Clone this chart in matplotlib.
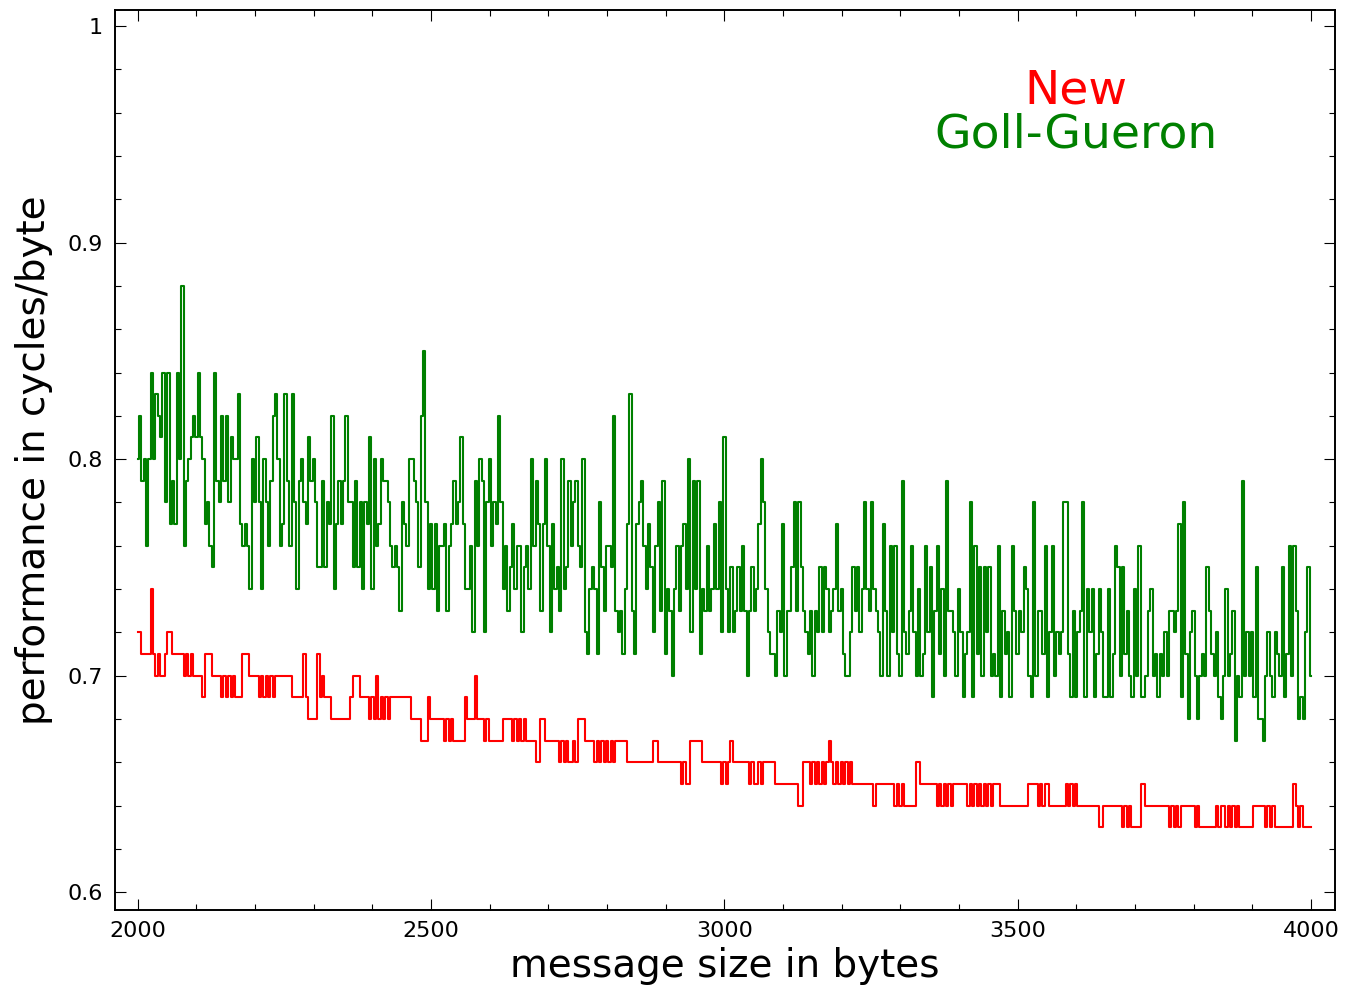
import numpy as np
import matplotlib
matplotlib.use("Agg")
import matplotlib.pyplot as plt
from matplotlib.ticker import MultipleLocator, FuncFormatter


# message sizes, one sample every 4 bytes from 2000 to 4000
size_start = 2000
size_stop = 4000
size_step = 4

# Goll-Gueron, cycles/byte in hundredths
gg_2000 = [80, 82, 79, 80, 76, 80, 84, 80, 83, 82, 81, 84, 78, 84, 77, 79, 77, 84, 80, 88,
           76, 79, 80, 81, 82, 81, 84, 81, 80, 77, 78, 76, 75, 84, 79, 78, 82, 79, 82, 78,
           81, 80, 80, 83, 77, 76, 77, 76, 74, 80, 78, 81, 78, 74, 80, 78, 76, 79, 82, 83,
           80, 76, 77, 83, 79, 76, 83, 78, 74, 79, 80, 78, 77, 81, 79, 80, 78, 75]
gg_2312 = [75, 79, 75, 78, 77, 82, 74, 77, 79, 77, 79, 82, 78, 78, 75, 79, 75, 78, 74, 78,
           77, 81, 74, 80, 76, 77, 80, 79, 79, 78, 76, 75, 76, 75, 73, 78, 77, 76, 80, 80,
           79, 78, 75, 82, 85, 78, 74, 77, 74, 77, 73, 76, 76, 77, 73, 76, 77, 79, 77, 78,
           81, 77, 74, 74, 76, 72, 79, 76, 80, 79, 72, 78, 80, 76, 78, 77, 82, 78, 74, 76,
           73, 75, 77, 74, 76]
gg_2652 = [76, 72, 75, 76, 74, 80, 76, 79, 77, 73, 77, 80, 76, 72, 77, 74, 75, 73, 80, 74,
           75, 79, 76, 78, 79, 76, 75, 80, 72, 71, 74, 75, 74, 71, 78, 75, 73, 76, 76, 75,
           82, 73, 72, 73, 71, 74, 77, 83, 73, 71, 77, 78, 79, 76, 74, 77, 75, 72, 76, 78,
           73, 79, 71, 74, 73, 70, 74, 76, 73, 76, 77, 74, 80, 72, 79, 74, 79, 71, 74, 73,
           76, 73, 74, 77, 74]
gg_2992 = [78, 72, 81, 74, 72, 75, 72, 73, 75, 73, 76, 73, 70, 73, 75, 73, 74, 77, 80, 78,
           74, 72, 71, 71, 70, 73, 72, 77, 70, 73, 73, 75, 78, 73, 78, 75, 73, 72, 71, 73,
           70, 73, 72, 75, 72, 75, 74, 72, 73, 74, 77, 73, 74, 71, 70, 70, 72, 75, 73, 75,
           72, 74, 78, 74, 73, 78, 74, 73, 72, 70, 77, 73, 70, 76, 72, 76, 71, 70, 79, 72,
           71, 73, 76, 72, 70]
gg_3332 = [74, 70, 71, 76, 72, 75, 69, 73, 76, 71, 74, 70, 79, 73, 73, 72, 70, 74, 72, 69,
           71, 72, 78, 69, 76, 71, 75, 70, 75, 72, 75, 70, 71, 70, 76, 69, 73, 71, 72, 69,
           76, 73, 71, 73, 72, 75, 74, 70, 69, 78, 70, 73, 73, 71, 76, 69, 72, 76, 70, 72,
           71, 72, 78, 78, 71, 69, 73, 69, 72, 73, 78, 69, 74, 72, 74, 69, 71, 74, 72, 69,
           69, 74, 69, 71, 76]
gg_3672 = [75, 70, 75, 71, 73, 70, 69, 74, 70, 76, 69, 69, 70, 73, 74, 70, 71, 69, 71, 70,
           72, 70, 73, 73, 72, 73, 77, 69, 78, 71, 68, 72, 73, 70, 68, 70, 71, 70, 75, 73,
           71, 70, 72, 69, 68, 70, 74, 70, 71, 73, 67, 70, 69, 79, 70, 72, 70, 72, 69, 75,
           68, 68, 67, 70, 72, 70, 69, 72, 71, 70, 75, 69, 71, 76, 70, 76, 73, 68, 69, 68,
           72, 75, 70]

# New method, cycles/byte in hundredths
new_2000 = [72, 72, 71, 71, 71, 71, 74, 71, 70, 71, 70, 70, 71, 72, 72, 71, 71, 71, 71, 71,
            70, 71, 70, 71, 70, 70, 70, 70, 69, 71, 71, 71, 70, 70, 70, 70, 69, 70, 69, 70,
            69, 70, 69, 69, 69, 71, 71, 71, 70, 70, 70, 70, 69, 70, 69, 70, 69, 70, 69, 70,
            70, 70, 70, 70, 70, 70, 69, 69, 69, 69, 69, 71, 69, 68, 68, 68, 68, 71]
new_2312 = [69, 70, 69, 69, 69, 68, 68, 68, 68, 68, 68, 68, 68, 69, 70, 70, 70, 69, 69, 69,
            69, 68, 69, 68, 70, 68, 69, 68, 69, 68, 69, 69, 69, 69, 69, 69, 69, 69, 69, 68,
            68, 68, 68, 67, 67, 67, 69, 68, 68, 68, 68, 68, 68, 67, 68, 67, 68, 67, 67, 67,
            67, 67, 69, 68, 68, 68, 70, 68, 68, 68, 67, 68, 67, 67, 67, 67, 67, 67, 68, 68,
            68, 68, 67, 68, 67]
new_2652 = [68, 67, 68, 67, 67, 67, 67, 66, 66, 68, 68, 67, 67, 67, 67, 67, 67, 66, 67, 66,
            67, 66, 66, 67, 66, 68, 68, 68, 67, 67, 67, 67, 66, 67, 66, 67, 66, 67, 66, 67,
            66, 67, 67, 67, 67, 67, 66, 66, 66, 66, 66, 66, 66, 66, 66, 66, 66, 67, 67, 66,
            66, 66, 66, 66, 66, 66, 66, 66, 66, 65, 66, 65, 65, 67, 67, 67, 67, 67, 66, 66,
            66, 66, 66, 66, 66]
new_2992 = [66, 65, 66, 65, 66, 67, 66, 66, 66, 66, 66, 66, 66, 65, 66, 65, 65, 66, 65, 66,
            66, 66, 66, 66, 65, 65, 65, 65, 65, 65, 65, 65, 65, 65, 64, 64, 66, 66, 66, 65,
            66, 65, 66, 65, 66, 65, 66, 67, 66, 65, 66, 65, 66, 65, 66, 65, 66, 65, 65, 65,
            65, 65, 65, 65, 65, 65, 64, 65, 65, 65, 65, 65, 65, 65, 65, 64, 65, 64, 65, 64,
            64, 64, 64, 64, 66]
new_3332 = [66, 65, 65, 65, 65, 65, 65, 65, 64, 65, 64, 65, 64, 65, 64, 65, 65, 65, 65, 65,
            65, 64, 65, 64, 65, 64, 65, 64, 65, 64, 65, 64, 65, 65, 65, 64, 64, 64, 64, 64,
            64, 64, 64, 64, 64, 64, 64, 65, 65, 65, 65, 64, 65, 64, 65, 65, 64, 64, 64, 64,
            64, 64, 64, 65, 64, 65, 64, 65, 64, 64, 64, 64, 64, 64, 64, 64, 64, 63, 63, 64,
            64, 64, 64, 64, 64]
new_3672 = [64, 64, 63, 64, 63, 64, 63, 63, 63, 63, 65, 65, 64, 64, 64, 64, 64, 64, 64, 64,
            64, 64, 63, 64, 63, 64, 63, 64, 64, 64, 64, 64, 64, 63, 64, 63, 63, 63, 63, 63,
            63, 63, 64, 63, 64, 64, 63, 64, 63, 64, 63, 64, 63, 63, 63, 63, 63, 63, 64, 64,
            64, 64, 64, 63, 64, 63, 64, 63, 63, 63, 63, 63, 63, 63, 63, 65, 64, 63, 64, 63,
            63, 63, 63]

x_ticks_major = [2000, 2500, 3000, 3500, 4000]
y_ticks_major = [0.6, 0.7, 0.8, 0.9, 1.0]


def build_series():
    sizes = np.arange(size_start, size_stop + 1, size_step)
    gg = np.array(gg_2000 + gg_2312 + gg_2652 + gg_2992 + gg_3332 + gg_3672) / 100.0
    new = np.array(new_2000 + new_2312 + new_2652 + new_2992 + new_3332 + new_3672) / 100.0
    n = min(len(sizes), len(gg), len(new))
    return sizes[:n], gg[:n], new[:n]


def main():
    sizes, gg, new = build_series()

    fig = plt.figure(figsize=(13.59, 9.96), dpi=100)
    ax = fig.add_axes([0.0846, 0.0863, 0.8977, 0.9041])

    # sharp vertical jumps like the original dense trace
    ax.plot(sizes, gg, color="#008000", linewidth=1.5, drawstyle="steps-mid")
    ax.plot(sizes, new, color="#ff0000", linewidth=1.5, drawstyle="steps-mid")

    ax.set_xlim(1961, 4041)
    ax.set_ylim(0.5918, 1.0076)

    ax.set_xticks(x_ticks_major)
    ax.set_yticks(y_ticks_major)
    ax.xaxis.set_minor_locator(MultipleLocator(100))
    ax.yaxis.set_minor_locator(MultipleLocator(0.02))
    ax.yaxis.set_major_formatter(FuncFormatter(lambda v, p: "%g" % v))

    ax.tick_params(which="both", direction="in", top=True, right=True, width=0.8, colors="black")
    ax.tick_params(which="major", length=8, labelsize=16)
    ax.tick_params(which="minor", length=4)
    ax.tick_params(axis="x", which="major", pad=8)
    ax.tick_params(axis="y", which="major", pad=9)
    for spine in ax.spines.values():
        spine.set_linewidth(1.4)

    ax.set_xlabel("message size in bytes", fontsize=28, labelpad=4)
    ax.set_ylabel("performance in cycles/byte", fontsize=28, labelpad=10)

    ax.text(0.7877, 0.896, "New", color="#ff0000", fontsize=34,
            ha="center", va="baseline", transform=ax.transAxes)
    ax.text(0.7877, 0.847, "Goll-Gueron", color="#008000", fontsize=34,
            ha="center", va="baseline", transform=ax.transAxes)

    fig.savefig("out.png", dpi=100)


if __name__ == '__main__':
    main()
